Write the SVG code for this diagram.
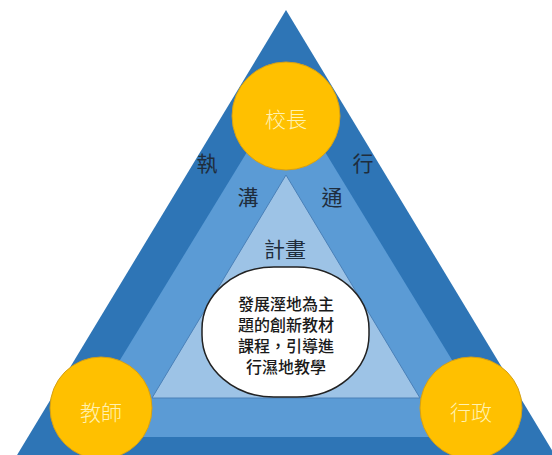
<svg xmlns="http://www.w3.org/2000/svg" width="552" height="455" viewBox="0 0 552 455">
<style>
.lbl{font-family:"Noto Sans CJK TC","Noto Sans CJK SC",sans-serif;font-size:21px;fill:#1f2d3d;text-anchor:middle;dominant-baseline:central}
.ctext{font-family:"Noto Sans CJK TC","Noto Sans CJK SC",sans-serif;font-size:21px;font-weight:300;fill:#fff2b3;text-anchor:middle;dominant-baseline:central}
.circ{fill:#ffc000;stroke:#d4a017;stroke-width:1}
.box{font-family:"Noto Sans CJK TC","Noto Sans CJK SC",sans-serif;font-size:16px;font-weight:500;fill:#1a1a1a;text-anchor:middle;dominant-baseline:central}
</style>
<rect width="552" height="455" fill="#ffffff"/>
<g id="layers">
<polygon id="outer" points="286,10 8,470 564,470" fill="#2e75b6"/>
<polygon id="middle" points="286,88 73,437 499,437" fill="#5b9bd5"/>
<polygon id="inner" points="286,175 152,398 420,398" fill="#9dc3e6" stroke="#4a80b8" stroke-width="1"/>
</g>
<g id="connectors"></g>
<g id="labels">
<text class="lbl" x="207" y="162">執</text>
<text class="lbl" x="363" y="162">行</text>
<text class="lbl" x="248" y="196">溝</text>
<text class="lbl" x="332" y="196">通</text>
<text class="lbl" x="285" y="248">計畫</text>
</g>
<g id="goal">
<rect x="202" y="267" width="167" height="130" rx="72" ry="62" fill="#ffffff" stroke="#222222" stroke-width="1.5"/>
<text class="box" x="286" y="303">發展溼地為主</text>
<text class="box" x="286" y="324">題的創新教材</text>
<text class="box" x="286" y="345">課程，引導進</text>
<text class="box" x="286" y="366">行濕地教學</text>
</g>
<g id="principal">
<circle class="circ" cx="286" cy="116" r="54"/>
<text class="ctext" x="286" y="118">校長</text>
</g>
<g id="teacher">
<circle class="circ" cx="101" cy="408" r="51"/>
<text class="ctext" x="101" y="411">教師</text>
</g>
<g id="admin">
<circle class="circ" cx="471" cy="408" r="51"/>
<text class="ctext" x="471" y="411">行政</text>
</g>
</svg>
